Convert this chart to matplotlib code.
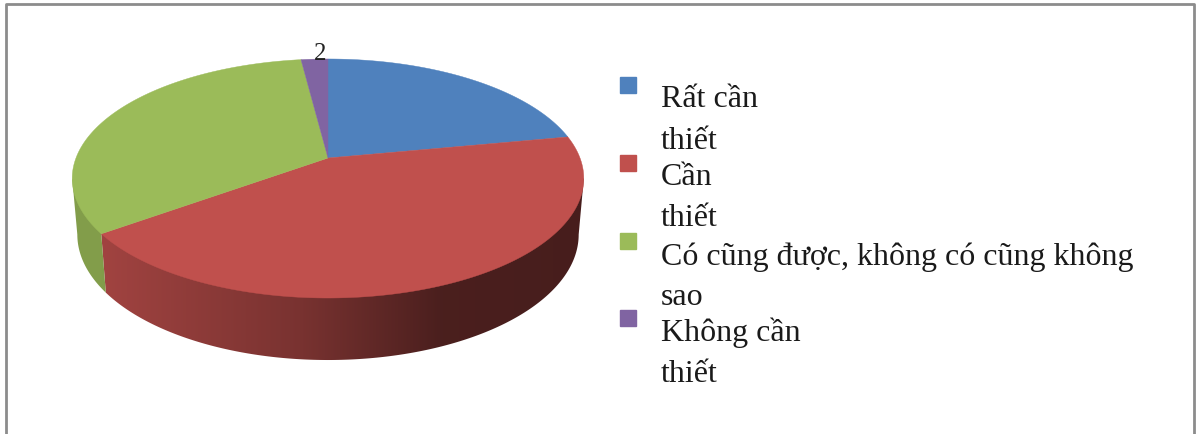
import numpy as np
import matplotlib
matplotlib.use('Agg')
import matplotlib.pyplot as plt
from matplotlib.patches import Rectangle
from matplotlib.path import Path
from matplotlib.colors import to_rgb

# slices, clockwise from the top
values = [22, 43, 33, 2]
colors = ['#4f81bd', '#c0504d', '#9bbb59', '#8064a2']
legend_lines = [['Rất cần', 'thiết'], ['Cần', 'thiết'],
                ['Có cũng được, không có cũng không', 'sao'],
                ['Không cần', 'thiết']]

# pie geometry in pixels
cx, cy = 328, 158
b, a, k = 252, 116, 0.1715
depth = 55


def top_face(theta):
    d = 1 + k * np.cos(theta)
    return cx + b * np.sin(theta) / d, cy - a * np.cos(theta) / d


def bottom_face(theta):
    x, y = top_face(theta)
    return cx + 0.98 * (x - cx), cy + 1.05 * (y - cy) + depth


fig = plt.figure(figsize=(11.96, 4.34), dpi=100)
ax = fig.add_axes([0, 0, 1, 1])
ax.axis('off')

# outer frame, open at the bottom
ax.plot([6, 6, 1194, 1194], [434, 4, 4, 434], color='#8c8c8c', lw=2)

edges = np.cumsum([0] + values) / sum(values) * 2 * np.pi

# the wall only shows between the two side extremes of the ellipse
right_end = np.arccos(-k)
left_end = 2 * np.pi - right_end

# side wall: a left to right shade, clipped to each slice's wall
px = np.arange(1196)
shade = np.interp(px, [100, 300, 440, 590], [0.84, 0.63, 0.39, 0.37])
for i in range(len(values)):
    t0 = max(edges[i], right_end)
    t1 = min(edges[i + 1], left_end)
    if t1 <= t0:
        continue
    th = np.linspace(t0, t1, 200)
    xb, yb = bottom_face(th)
    xt, yt = top_face(np.array([t1, t0]))
    wall = Path(np.c_[np.r_[xb, xt, xb[0]], np.r_[yb, yt, yb[0]]], closed=True)
    img = shade[None, :, None] * np.array(to_rgb(colors[i]))
    im = ax.imshow(img, extent=(0, 1196, 434, 0), aspect='auto', zorder=1)
    im.set_clip_path(wall, transform=ax.transData)

# top face
for i in range(len(values)):
    th = np.linspace(edges[i], edges[i + 1], 200)
    x, y = top_face(th)
    ax.fill(np.r_[cx, x], np.r_[cy, y], color=colors[i], lw=0.3, zorder=2)

# only the smallest slice has a label
ax.text(320, 60, str(values[3]), family='Liberation Serif', fontsize=18,
        ha='center', va='baseline', color='#222222', zorder=3)

# legend
marker_y = [85, 163, 241, 318]
baselines = [[107, 149], [185, 226], [265, 305], [341, 382]]
for i in range(len(values)):
    ax.add_patch(Rectangle((620, marker_y[i] - 8), 16, 16, color=colors[i]))
    for line, base in zip(legend_lines[i], baselines[i]):
        ax.text(661, base, line, family='Liberation Serif', fontsize=23,
                ha='left', va='baseline', color='#1a1a1a')

ax.set_xlim(0, 1196)
ax.set_ylim(434, 0)
fig.savefig('out.png', dpi=100)
